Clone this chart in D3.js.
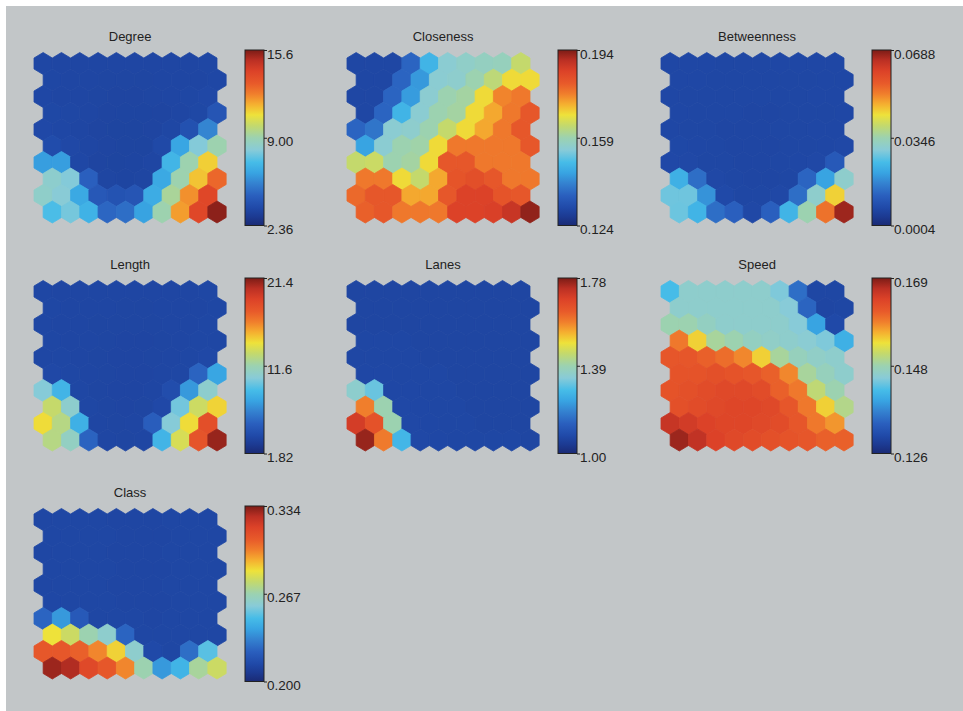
<!doctype html>
<html>
  <head>
    <script src="https://cdn.jsdelivr.net/npm/d3@7/dist/d3.min.js"></script>
    <style>
      body { margin: 0; background: #fff; }
      text { font-family: "Liberation Sans", Arial, sans-serif; fill: #222; }
    </style>
  </head>
  <body>
    <div id="chart"></div>
    <script>
      // component names, in plot order
      var names = ["Degree", "Closeness", "Betweenness", "Length", "Lanes", "Speed", "Class"];

      // colorbar tick labels (min, mid, max) for each component
      var degreeTicks = ["2.36", "9.00", "15.6"];
      var closenessTicks = ["0.124", "0.159", "0.194"];
      var betweennessTicks = ["0.0004", "0.0346", "0.0688"];
      var lengthTicks = ["1.82", "11.6", "21.4"];
      var lanesTicks = ["1.00", "1.39", "1.78"];
      var speedTicks = ["0.126", "0.148", "0.169"];
      var classTicks = ["0.200", "0.267", "0.334"];

      // SOM component planes, 10 rows x 10 columns (odd rows shifted right)
      var degree = [
        [3.1,3.0,2.9,2.9,2.9,2.9,2.9,3.0,3.0,3.1],
        [3.1,3.0,2.9,2.8,2.8,2.8,2.9,2.9,3.0,3.2],
        [3.2,3.0,2.9,2.8,2.7,2.7,2.8,2.9,3.1,3.4],
        [3.3,3.1,2.9,2.7,2.6,2.6,2.7,2.9,3.3,4.2],
        [3.5,3.2,2.9,2.7,2.5,2.5,2.7,3.1,4.0,5.6],
        [3.8,3.4,3.0,2.7,2.5,2.5,3.6,6.4,8.0,9.0],
        [6.2,6.2,3.2,2.7,2.5,2.6,3.0,6.9,9.0,11.0],
        [8.3,8.0,4.6,2.8,2.6,2.8,6.5,9.0,11.2,12.8],
        [8.4,8.1,6.5,4.3,4.1,4.2,6.6,9.3,12.0,13.8],
        [7.2,7.8,6.8,4.8,5.0,6.3,9.0,11.8,13.8,15.4]
      ];
      var closeness = [
        [.1275,.1275,.1280,.1366,.1478,.1548,.1560,.1570,.1575,.1639],
        [.1275,.1275,.1366,.1436,.1548,.1555,.1590,.1630,.1688,.1688],
        [.1275,.1280,.1366,.1440,.1550,.1590,.1600,.1688,.1760,.1772],
        [.1280,.1366,.1478,.1548,.1590,.1600,.1688,.1730,.1772,.1814],
        [.1366,.1390,.1548,.1555,.1590,.1639,.1688,.1730,.1772,.1814],
        [.1450,.1548,.1590,.1595,.1688,.1772,.1772,.1772,.1772,.1814],
        [.1639,.1645,.1590,.1600,.1688,.1814,.1814,.1772,.1772,.1772],
        [.1772,.1772,.1688,.1639,.1730,.1820,.1830,.1814,.1772,.1772],
        [.1790,.1814,.1814,.1730,.1730,.1814,.1856,.1856,.1820,.1814],
        [.1800,.1814,.1772,.1772,.1772,.1856,.1856,.1860,.1884,.1926]
      ];
      var betweenness = [
        [.0050,.0048,.0046,.0045,.0045,.0045,.0046,.0047,.0048,.0050],
        [.0049,.0046,.0044,.0043,.0043,.0043,.0044,.0045,.0047,.0049],
        [.0048,.0045,.0043,.0041,.0040,.0040,.0041,.0043,.0046,.0048],
        [.0048,.0044,.0041,.0039,.0038,.0038,.0040,.0042,.0045,.0048],
        [.0050,.0045,.0041,.0038,.0037,.0037,.0039,.0042,.0046,.0050],
        [.0055,.0048,.0042,.0038,.0036,.0036,.0039,.0043,.0050,.0058],
        [.0065,.0058,.0045,.0039,.0036,.0036,.0040,.0048,.0060,.0107],
        [.0230,.0141,.0059,.0040,.0037,.0038,.0045,.0127,.0209,.0312],
        [.0280,.0280,.0189,.0072,.0040,.0040,.0059,.0141,.0312,.0449],
        [.0278,.0237,.0141,.0120,.0059,.0120,.0237,.0346,.0531,.0667]
      ];
      var length = [
        [2.8,2.7,2.7,2.6,2.6,2.6,2.6,2.7,2.7,2.8],
        [2.8,2.7,2.6,2.6,2.5,2.5,2.6,2.6,2.7,2.8],
        [2.8,2.7,2.6,2.5,2.5,2.5,2.5,2.6,2.7,2.9],
        [2.9,2.7,2.6,2.5,2.4,2.4,2.5,2.6,2.8,3.0],
        [3.0,2.8,2.6,2.5,2.4,2.4,2.5,2.7,3.0,3.4],
        [3.3,2.9,2.6,2.5,2.4,2.4,2.6,3.0,5.3,7.8],
        [10.2,8.5,2.9,2.5,2.4,2.4,2.7,4.0,7.3,10.6],
        [13.0,10.6,3.0,2.5,2.4,2.5,3.5,9.8,13.2,14.5],
        [14.3,12.5,8.3,2.7,2.5,2.6,5.0,10.2,14.3,18.3],
        [12.5,11.0,5.3,2.7,2.5,2.7,8.5,13.5,18.0,20.9]
      ];
      var lanes = [
        [1.03,1.03,1.03,1.03,1.03,1.03,1.03,1.03,1.03,1.03],
        [1.03,1.03,1.03,1.03,1.03,1.03,1.03,1.03,1.03,1.03],
        [1.03,1.03,1.03,1.03,1.03,1.03,1.03,1.03,1.03,1.03],
        [1.04,1.04,1.04,1.03,1.03,1.03,1.03,1.03,1.03,1.03],
        [1.04,1.04,1.04,1.04,1.03,1.03,1.03,1.03,1.03,1.03],
        [1.05,1.05,1.04,1.04,1.04,1.03,1.03,1.03,1.03,1.03],
        [1.35,1.31,1.05,1.05,1.04,1.04,1.03,1.03,1.03,1.03],
        [1.585,1.39,1.06,1.05,1.04,1.04,1.03,1.03,1.03,1.03],
        [1.70,1.65,1.39,1.06,1.05,1.04,1.04,1.03,1.03,1.03],
        [1.76,1.59,1.27,1.06,1.05,1.04,1.04,1.04,1.04,1.03]
      ];
      var speed = [
        [.1415,.1454,.1454,.1454,.1454,.1454,.1441,.1346,.1286,.1286],
        [.1454,.1454,.1454,.1454,.1454,.1454,.1445,.1337,.1277,.1286],
        [.1475,.1475,.1462,.1454,.1454,.1454,.1454,.1445,.1389,.1303],
        [.1587,.1540,.1484,.1475,.1462,.1458,.1454,.1449,.1441,.1402],
        [.1613,.1613,.1604,.1595,.1578,.1540,.1484,.1466,.1458,.1454],
        [.1617,.1617,.1621,.1617,.1613,.1604,.1578,.1484,.1466,.1454],
        [.1617,.1621,.1626,.1630,.1630,.1626,.1604,.1587,.1501,.1475],
        [.1621,.1626,.1630,.1634,.1634,.1630,.1613,.1587,.1540,.1492],
        [.1656,.1647,.1638,.1634,.1634,.1630,.1626,.1613,.1587,.1570],
        [.1677,.1660,.1638,.1630,.1626,.1621,.1617,.1613,.1604,.1604]
      ];
      var cls = [
        [.2075,.2070,.2068,.2067,.2066,.2066,.2066,.2067,.2068,.2070],
        [.2075,.2070,.2068,.2067,.2066,.2066,.2066,.2067,.2068,.2070],
        [.2076,.2071,.2068,.2067,.2066,.2066,.2066,.2067,.2068,.2070],
        [.2078,.2072,.2069,.2067,.2066,.2066,.2066,.2067,.2068,.2070],
        [.2080,.2074,.2070,.2067,.2066,.2066,.2066,.2067,.2068,.2070],
        [.2085,.2078,.2071,.2068,.2066,.2066,.2066,.2067,.2068,.2072],
        [.2241,.2375,.2201,.2080,.2070,.2067,.2066,.2067,.2068,.2075],
        [.2844,.2777,.2670,.2603,.2241,.2080,.2070,.2067,.2068,.2075],
        [.3099,.3099,.3072,.2992,.2871,.2603,.2134,.2080,.2268,.2509],
        [.3300,.3273,.3152,.3099,.2992,.2670,.2375,.2456,.2697,.2777]
      ];

      var planes = [degree, closeness, betweenness, length, lanes, speed, cls];
      var ticks = [degreeTicks, closenessTicks, betweennessTicks, lengthTicks, lanesTicks, speedTicks, classTicks];

      // jet-like colormap as it appears in the figure (flat dark blue at the low end)
      var stopPos = [0, 0.10, 0.17, 0.24, 0.30, 0.36, 0.43, 0.50, 0.57, 0.63, 0.69, 0.75, 0.81, 0.88, 0.94, 1];
      var stopCol = ["#1e449f", "#2049a8", "#2a5fbe", "#3482d0", "#38a4e2", "#46bce8", "#88cbd8", "#9cd2b0",
                     "#c4d96c", "#eee23a", "#f5b030", "#f07e2c", "#e85a2a", "#dc4228", "#bc3024", "#7c1c16"];
      var cmap = d3.scaleLinear().domain(stopPos).range(stopCol).interpolate(d3.interpolateRgb);

      var W = 963, H = 711;
      var svg = d3.select("#chart").append("svg").attr("width", W).attr("height", H);

      svg.append("rect").attr("x", 6).attr("y", 6).attr("width", W - 6).attr("height", H - 6).attr("fill", "#c2c6c8");

      // colorbar gradient (darker navy at the very bottom)
      var barPos = [0, 0.05].concat(stopPos.slice(1));
      var barCol = ["#1a2a74", "#1c3a92"].concat(stopCol.slice(1));
      var grad = svg.append("defs").append("linearGradient")
        .attr("id", "cbar").attr("x1", 0).attr("y1", 1).attr("x2", 0).attr("y2", 0);
      grad.selectAll("stop").data(barPos).enter().append("stop")
        .attr("offset", function(d) { return d; })
        .attr("stop-color", function(d, i) { return barCol[i]; });

      // layout
      var panelX = [34, 347, 661], panelY = [52.5, 280.5, 508.5];
      var hw = 18.3, hr = 11, hdy = 16.5;
      var hexPts = [[0, -hr], [hw / 2, -hr / 2], [hw / 2, hr / 2], [0, hr], [-hw / 2, hr / 2], [-hw / 2, -hr / 2]];
      var hexPath = "M" + hexPts.map(function(p) { return p.join(","); }).join("L") + "Z";

      planes.forEach(function(plane, i) {
        var left = panelX[i % 3], top = panelY[Math.floor(i / 3)];
        var t = ticks[i];
        var lo = +t[0], hi = +t[2];
        var norm = d3.scaleLinear().domain([lo, hi]).range([0, 1]).clamp(true);

        var x = d3.scaleLinear().domain([0, 9]).range([left + hw / 2, left + hw / 2 + 9 * hw]);
        var y = d3.scaleLinear().domain([0, 9]).range([top + hr, top + hr + 9 * hdy]);

        var g = svg.append("g");

        var cells = [];
        plane.forEach(function(row, r) {
          row.forEach(function(v, c) { cells.push({ r: r, c: c, v: v }); });
        });

        g.selectAll("path.hex").data(cells).enter().append("path")
          .attr("class", "hex")
          .attr("d", hexPath)
          .attr("transform", function(d) { return "translate(" + (x(d.c + (d.r % 2) * 0.5)) + "," + y(d.r) + ")"; })
          .attr("fill", function(d) { return cmap(norm(d.v)); })
          .attr("stroke", function(d) { return cmap(norm(d.v)); })
          .attr("stroke-width", 0.8)
          .attr("stroke-linejoin", "round");

        // title
        g.append("text")
          .attr("x", left + 10.5 * hw / 2)
          .attr("y", top - 11.5)
          .attr("text-anchor", "middle")
          .style("font-size", "13px")
          .text(names[i]);

        // colorbar
        var bx = left + 211, bw = 19, bTop = top - 2.5, bBot = top + 173;
        g.append("rect")
          .attr("x", bx).attr("y", bTop).attr("width", bw).attr("height", bBot - bTop)
          .attr("fill", "url(#cbar)").attr("stroke", "#222").attr("stroke-width", 1);

        var cy = d3.scaleLinear().domain([lo, hi]).range([bBot, bTop]);
        var axis = g.append("g")
          .attr("transform", "translate(" + (bx + bw) + ",0)")
          .call(d3.axisRight(cy)
            .tickValues([lo, (lo + hi) / 2, hi])
            .tickSize(3).tickPadding(0)
            .tickFormat(function(d, k) { return t[k]; }));
        axis.select(".domain").remove();
        axis.selectAll(".tick line").attr("stroke", "#222");
        axis.selectAll(".tick text")
          .attr("dy", "0.6em")
          .style("font-size", "13.5px")
          .style("font-family", "'Liberation Sans', Arial, sans-serif")
          .attr("fill", "#222");
      });
    </script>
  </body>
</html>
